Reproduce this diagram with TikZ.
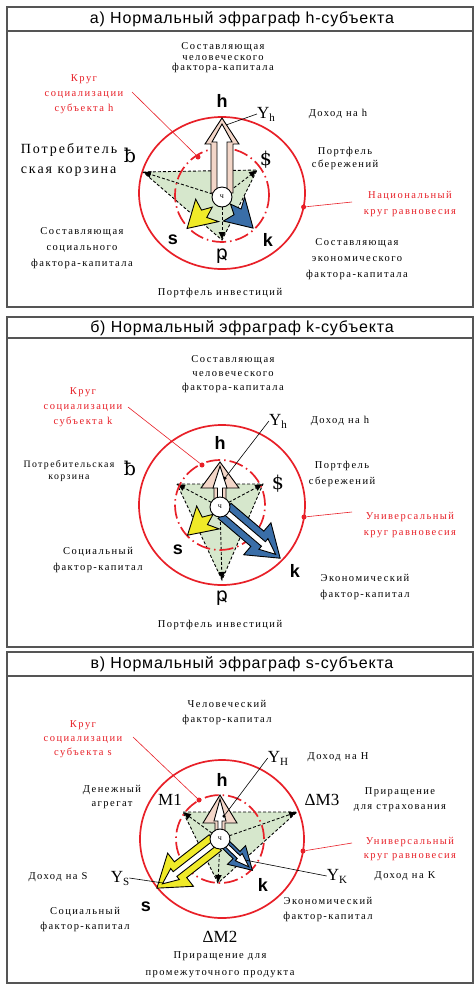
\documentclass[tikz,border=0pt]{standalone}
\usepackage{fontspec}
\setmainfont{Liberation Serif}
\newfontfamily\lblf{Liberation Serif}[LetterSpace=14]
\newfontfamily\ttlf{Liberation Sans}[LetterSpace=5]
\newfontfamily\sfb{Liberation Sans}
\newfontfamily\symf{DejaVu Serif}
\newfontfamily\symsf{DejaVu Sans}
\usetikzlibrary{arrows.meta}
\definecolor{myred}{RGB}{232,32,40}
\definecolor{peach}{RGB}{243,214,200}
\definecolor{lgreen}{RGB}{214,231,204}
\definecolor{myyellow}{RGB}{240,234,40}
\definecolor{myblue}{RGB}{58,110,168}
\definecolor{framegray}{RGB}{85,85,85}
\newcommand\fatarr[6]{%
 \filldraw[fill=#1,draw=black,line width=0.9pt,line join=miter] (#2,-#4) -- ({#3-#6},-#4) -- ({#3-#6},-#5) -- (#3,0) -- ({#3-#6},#5) -- ({#3-#6},#4) -- (#2,#4) -- cycle;}
\newcommand\jagarr[2]{%
 \filldraw[fill=#1,draw=black,line width=0.9pt,line join=miter] (#2,0) -- ({#2-28},-16) -- ({#2-22},-5) -- ({#2-33},-1) -- ({#2-23},4) -- ({#2-26},16) -- cycle;}
\begin{document}
\begin{tikzpicture}[x=1pt,y=-1pt,
 ls/.style={font=\lblf\fontsize{10.5}{#1}\selectfont, align=center, inner sep=0pt},
 ls/.default=13,
 rls/.style={ls=#1, text=myred},
 rls/.default=15,
 ttl/.style={font=\ttlf\fontsize{16}{16}\selectfont, inner sep=0pt},
 bsf/.style={font=\sfb\bfseries\fontsize{18}{18}\selectfont, inner sep=0pt},
 sym/.style={font=\symf\fontsize{19}{19}\selectfont, inner sep=0pt},
 psym/.style={font=\symsf\fontsize{19}{19}\selectfont, inner sep=0pt},
 yl/.style={font=\fontsize{17}{17}\selectfont, inner sep=0pt},
 frm/.style={draw=framegray, line width=2.2pt},
 natc/.style={draw=myred, line width=1.7pt},
 ring/.style={draw=myred, line width=1.7pt, dash pattern=on 14pt off 4pt on 1.5pt off 4pt},
 dl/.style={draw=black, line width=0.9pt, dash pattern=on 3pt off 2pt},
 darr/.style={dl, -{Latex[length=8pt,width=7pt]}},
 tri/.style={fill=lgreen},
 smc/.style={circle, draw=black, fill=white, line width=0.9pt, minimum size=20pt, inner sep=0pt, font=\fontsize{8}{8}\selectfont},
 rdot/.style={circle, fill=myred, minimum size=5pt, inner sep=0pt},
 bdot/.style={circle, fill=black, minimum size=3.5pt, inner sep=0pt},
 rline/.style={draw=myred, line width=0.6pt},
 bline/.style={draw=black, line width=0.6pt}]
\useasboundingbox (0,0) rectangle (476,986);
\fill[white] (0,0) rectangle (476,986);
\newcommand\Ysub[2]{#1\raisebox{-3pt}{\fontsize{11}{11}\selectfont #2}}

% ================= panel a
\draw[frm] (7,7) rectangle (473,307);
\draw[frm] (7,31) -- (473,31);
\node[ttl] (ta) at (242,19) {а) Нормальный эфраграф h-субъекта};
\coordinate (aO) at (222,193);
\coordinate (aC) at (222,197);
\draw[natc] (aO) ellipse [x radius=83pt, y radius=76pt];
\coordinate (aB) at (143,172); \coordinate (aS) at (257,170); \coordinate (aP) at (222,240);
\fill[tri] (aB) -- (aS) -- (aP) -- cycle;
\draw[dl] (aB) -- (aS) -- (aP) -- cycle;
\draw[darr] (aC) -- (aB); \draw[darr] (aC) -- (aS); \draw[darr] (aC) -- (aP);
\draw[ring] (222,195) circle [radius=47pt];
\begin{scope}[shift={(aC)},rotate=90] \fatarr{peach}{4}{79}{11}{17}{26} \fatarr{white}{4}{73}{5}{10}{18} \end{scope}
\begin{scope}[shift={(aC)},rotate=222] \jagarr{myyellow}{47} \end{scope}
\begin{scope}[shift={(aC)},rotate=-45] \jagarr{myblue}{44} \end{scope}
\node[smc] (aCc) at (aC) {ч};
\node[rdot] (aRd) at (198,157) {};
\node[rls] (aKr) at (84,94) {Круг\\социализации\\субъекта h};
\coordinate (aKl) at (132,92); \draw[rline] (aKl) -- (aRd);
\node[rdot] (aNd) at (303.6,207) {};
\node[rls=15.5] (aNl) at (410,204) {Национальный\\круг равновесия};
\coordinate (aNs) at (352,202); \draw[rline] (aNs) -- (aNd);
\node[bsf] (ah) at (222,101) {h};
\node[yl] (aY) at (266,114) {\Ysub{Y}{h}};
\coordinate (aYe) at (226,125); \draw[bline] (aY.west) -- (aYe);
\node[ls] (aDh) at (338,114) {Доход на h};
\node[ls=10.5] (aHc) at (223,58) {Составляющая\\человеческого\\фактора-капитала};
\node[font=\lblf\fontsize{14}{20}\selectfont, align=left, inner sep=0pt] (aPk) at (69,160) {Потребитель\\ская корзина};
\node[sym] (aBs) at (130,155) {ƀ};
\node[sym] (aSs) at (266,160) {\$};
\node[ls=13] (aPs) at (345,158) {Портфель\\сбережений};
\node[bsf] (as) at (173,240) {s};
\node[bsf] (ak) at (268,240) {k};
\node[psym] (aPp) at (222,256) {ҏ};
\node[ls=16] (aSc) at (82,248) {Составляющая\\социального\\фактора-капитала};
\node[ls=16] (aEc) at (357,259) {Составляющая\\экономического\\фактора-капитала};
\node[ls] (aPi) at (220,293) {Портфель инвестиций};

% ================= panel b
\draw[frm] (7,317) rectangle (473,647);
\draw[frm] (7,338) -- (473,338);
\node[ttl] (tb) at (242,328) {б) Нормальный эфраграф k-субъекта};
\coordinate (bO) at (222,505);
\coordinate (bC) at (220,507);
\draw[natc] (bO) ellipse [x radius=83pt, y radius=80pt];
\coordinate (bB) at (177,484); \coordinate (bS) at (263,484); \coordinate (bP) at (222,580);
\fill[tri] (bB) -- (bS) -- (bP) -- cycle;
\draw[dl] (bB) -- (bS) -- (bP) -- cycle;
\draw[darr] (bC) -- (bB); \draw[darr] (bC) -- (bS); \draw[darr] (bC) -- (bP);
\draw[ring] (220,505) circle [radius=45pt];
\begin{scope}[shift={(bC)},rotate=90] \fatarr{peach}{6}{45}{6}{19}{26} \fatarr{white}{6}{41}{2.5}{7}{22} \end{scope}
\begin{scope}[shift={(bC)},rotate=221] \jagarr{myyellow}{43} \end{scope}
\begin{scope}[shift={(bC)},rotate=-40.4] \fatarr{myblue}{6}{79}{10}{21}{30} \fatarr{white}{6}{73}{3}{7}{16} \end{scope}
\node[smc] (bCc) at (bC) {ч};
\node[rdot] (bRd) at (202,465) {};
\node[rls] (bKr) at (83,407) {Круг\\социализации\\субъекта k};
\coordinate (bKl) at (128,407); \draw[rline] (bKl) -- (bRd);
\node[rdot] (bNd) at (304,517) {};
\node[rls=16] (bNl) at (410,525) {Универсальный\\круг равновесия};
\coordinate (bNs) at (352,512); \draw[rline] (bNs) -- (bNd);
\node[bsf] (bh) at (220,443) {h};
\node[yl] (bY) at (278,421) {\Ysub{Y}{h}};
\node[bdot] (bYd) at (225,478) {};
\draw[bline] (bY.west) -- (bYd);
\node[ls] (bDh) at (340,421) {Доход на h};
\node[ls=14] (bHc) at (233,374) {Составляющая\\человеческого\\фактора-капитала};
\node[font=\lblf\fontsize{9.8}{12}\selectfont, align=center, inner sep=0pt] (bPk) at (69,471) {Потребительская\\корзина};
\node[sym] (bBs) at (130,468) {ƀ};
\node[ls=16] (bPs) at (342,474) {Портфель\\сбережений};
\node[sym] (bSs) at (278,484) {\$};
\node[ls=16] (bSc) at (98,560) {Социальный\\фактор-капитал};
\node[bsf] (bs) at (178,550) {s};
\node[bsf] (bk) at (295,571) {k};
\node[ls=16] (bEc) at (365,587) {Экономический\\фактор-капитал};
\node[psym] (bPp) at (222,598) {ҏ};
\node[ls] (bPi) at (220,625) {Портфель инвестиций};

% ================= panel c
\draw[frm] (7,652) rectangle (473,983);
\draw[frm] (7,676) -- (473,676);
\node[ttl] (tc) at (242,664) {в) Нормальный эфраграф s-субъекта};
\coordinate (cO) at (222,839);
\coordinate (cC) at (220,839);
\draw[natc] (cO) ellipse [x radius=82pt, y radius=79pt];
\coordinate (cM1) at (183,812); \coordinate (cM3) at (297,812); \coordinate (cB) at (218,883);
\fill[tri] (cM1) -- (cM3) -- (cB) -- cycle;
\draw[dl] (cM1) -- (cM3) -- (cB) -- cycle;
\draw[darr] (cC) -- (cM1); \draw[darr] (cC) -- (cM3); \draw[darr] (cC) -- (cB);
\draw[ring] (220,839) circle [radius=44pt];
\begin{scope}[shift={(cC)},rotate=90] \fatarr{peach}{6}{44}{5}{17}{28} \fatarr{white}{6}{40}{2}{6}{22} \end{scope}
\begin{scope}[shift={(cC)},rotate=-44] \fatarr{myblue}{6}{45}{5}{13}{22} \fatarr{white}{6}{40}{2}{5}{14} \end{scope}
\begin{scope}[shift={(cC)},rotate=217.9] \fatarr{myyellow}{6}{80}{10}{21}{30} \fatarr{white}{6}{73}{3}{7}{16} \end{scope}
\node[smc] (cCc) at (cC) {ч};
\node[rdot] (cRd) at (199,800) {};
\node[rls=14] (cKr) at (83,739) {Круг\\социализации\\субъекта s};
\coordinate (cKl) at (133,737); \draw[rline] (cKl) -- (cRd);
\node[rdot] (cNd) at (303,851) {};
\node[rls=14] (cNl) at (410,849) {Универсальный\\круг равновесия};
\coordinate (cNs) at (352,843); \draw[rline] (cNs) -- (cNd);
\node[bsf] (ch) at (222,780) {h};
\node[yl] (cY) at (278,758) {\Ysub{Y}{H}};
\node[bdot] (cYd) at (224,816) {};
\draw[bline] (cY.west) -- (cYd);
\node[ls] (cDh) at (338,757) {Доход на H};
\node[ls=15] (cHc) at (227,713) {Человеческий\\фактор-капитал};
\node[ls=14] (cDa) at (112,797) {Денежный\\агрегат};
\node[yl] (cM1l) at (170,800) {M1};
\node[yl] (cM3l) at (322,800) {ΔM3};
\node[ls=15] (cPs) at (400,800) {Приращение\\для страхования};
\node[ls] (cDs) at (58,877) {Доход на S};
\node[yl] (cYS) at (120,878) {\Ysub{Y}{S}};
\coordinate (cYSe) at (163,883); \draw[bline] (cYS.east) -- (cYSe);
\node[yl] (cYK) at (337,876) {\Ysub{Y}{K}};
\node[ls] (cDk) at (405,876) {Доход на K};
\coordinate (cYKe) at (245,860); \draw[bline] (cYK.west) -- (cYKe);
\node[bsf] (ck) at (263,885) {k};
\node[bsf] (cs) at (146,907) {s};
\node[ls=15] (cSc) at (85,920) {Социальный\\фактор-капитал};
\node[ls=15] (cEc) at (328,910) {Экономический\\фактор-капитал};
\node[yl] (cM2l) at (220,937) {ΔM2};
\node[ls=17] (cPp) at (220,965) {Приращение для\\промежуточного продукта};
\end{tikzpicture}
\end{document}
